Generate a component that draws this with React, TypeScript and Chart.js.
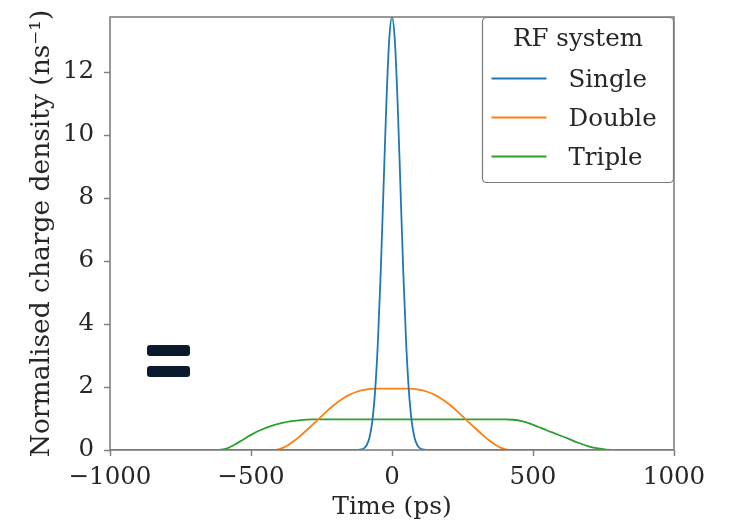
import React, { useEffect, useRef } from "react";
import { Chart, registerables } from "chart.js";

Chart.register(...registerables);

// ---- data ----
const seriesLabels = ["Single", "Double", "Triple"];
const seriesColors = ["#1f77b4", "#ff7f0e", "#2ca02c"];
const legendTitle = "RF system";
const xTitle = "Time (ps)";
const yTitle = "Normalised charge density (ns\u207B\u00B9)";

const xTicks = [-1000, -500, 0, 500, 1000];
const yTicks = [0, 2, 4, 6, 8, 10, 12];

const singleT = [-1000, -150, -120, -110, -100, -90, -80, -70, -60, -50, -40, -30, -20, -10, 0, 10, 20, 30, 40, 50, 60, 70, 80, 90, 100, 110, 120, 150, 1000];
const singleV = [0, 0, 0.005, 0.017, 0.05, 0.15, 0.39, 0.9, 1.86, 3.43, 5.65, 8.34, 11.01, 13.01, 13.75, 13.01, 11.01, 8.34, 5.65, 3.43, 1.86, 0.9, 0.39, 0.15, 0.05, 0.017, 0.005, 0, 0];

const doubleT = [-1000, -420, -400, -375, -350, -325, -300, -275, -250, -225, -200, -175, -150, -125, -100, -75, -50, 0, 50, 75, 100, 125, 150, 175, 200, 225, 250, 275, 300, 325, 350, 375, 400, 420, 1000];
const doubleV = [0, 0, 0.03, 0.12, 0.27, 0.45, 0.65, 0.86, 1.07, 1.28, 1.47, 1.63, 1.76, 1.85, 1.91, 1.94, 1.95, 1.95, 1.95, 1.94, 1.91, 1.85, 1.76, 1.63, 1.47, 1.28, 1.07, 0.86, 0.65, 0.45, 0.27, 0.12, 0.03, 0, 0];

const tripleT = [-1000, -630, -600, -580, -560, -530, -500, -470, -430, -385, -330, -280, -200, 0, 200, 400, 430, 460, 490, 520, 550, 585, 625, 660, 700, 730, 760, 790, 1000];
const tripleV = [0, 0, 0.02, 0.07, 0.16, 0.32, 0.48, 0.62, 0.76, 0.87, 0.94, 0.97, 0.97, 0.97, 0.97, 0.97, 0.96, 0.92, 0.84, 0.73, 0.62, 0.5, 0.36, 0.23, 0.11, 0.05, 0.015, 0, 0];

const xMin = -1000;
const xMax = 1000;
const yMin = 0;
const yMax = 13.75;

// ---- styling ----
const FONT_FAMILY = "'DejaVu Serif', serif";
const TEXT_COLOR = "#262626";
const AXIS_COLOR = "#808080";

const toPoints = (t: number[], v: number[]) => t.map((x, i) => ({ x, y: v[i] }));
const fmt = (v: number) => (v < 0 ? "\u2212" + Math.abs(v) : String(v));

const frameLegendPlugin = {
  id: "frameLegend",
  afterDatasetsDraw(chart: any) {
    const { ctx, chartArea: a } = chart;
    ctx.save();
    // axes frame (all four spines)
    ctx.strokeStyle = AXIS_COLOR;
    ctx.lineWidth = 1.6;
    ctx.strokeRect(a.left, a.top, a.right - a.left, a.bottom - a.top);

    // legend box in upper right
    const bw = 191;
    const bh = 165;
    const bx = a.right - bw - 0.5;
    const by = a.top + 0.5;
    ctx.beginPath();
    if ((ctx as any).roundRect) (ctx as any).roundRect(bx, by, bw, bh, 4);
    else ctx.rect(bx, by, bw, bh);
    ctx.fillStyle = "rgba(255,255,255,0.85)";
    ctx.fill();
    ctx.strokeStyle = "#7a7a7a";
    ctx.lineWidth = 1.2;
    ctx.stroke();

    ctx.fillStyle = TEXT_COLOR;
    ctx.font = `24.5px ${FONT_FAMILY}`;
    ctx.textAlign = "center";
    ctx.textBaseline = "alphabetic";
    ctx.fillText(legendTitle, bx + bw / 2, by + 28);

    ctx.textAlign = "left";
    chart.data.datasets.forEach((ds: any, i: number) => {
      const ly = by + 61 + i * 39;
      ctx.strokeStyle = ds.borderColor;
      ctx.lineWidth = 1.8;
      ctx.beginPath();
      ctx.moveTo(bx + 9, ly);
      ctx.lineTo(bx + 64, ly);
      ctx.stroke();
      ctx.fillStyle = TEXT_COLOR;
      ctx.fillText(ds.label, bx + 86, ly + 8.5);
    });
    ctx.restore();
  },
};

export default function App() {
  const ref = useRef<HTMLCanvasElement>(null);

  useEffect(() => {
    if (!ref.current) return;
    const series = [toPoints(singleT, singleV), toPoints(doubleT, doubleV), toPoints(tripleT, tripleV)];
    const chart = new Chart(ref.current, {
      type: "line",
      data: {
        datasets: series.map((pts, i) => ({
          label: seriesLabels[i],
          data: pts,
          borderColor: seriesColors[i],
          backgroundColor: seriesColors[i],
          borderWidth: 1.8,
          pointRadius: 0,
          fill: false,
          cubicInterpolationMode: "monotone" as const,
        })),
      },
      options: {
        responsive: false,
        animation: false,
        devicePixelRatio: 1,
        layout: { padding: { top: 17, right: 56, left: 0, bottom: 0 } },
        plugins: {
          legend: { display: false },
          tooltip: { enabled: false },
        },
        scales: {
          x: {
            type: "linear",
            min: xMin,
            max: xMax,
            afterBuildTicks: (s: any) => {
              s.ticks = xTicks.map((v) => ({ value: v }));
            },
            afterFit: (s: any) => {
              s.height = 75;
              s.paddingLeft = 0;
              s.paddingRight = 0;
            },
            grid: {
              display: true,
              drawOnChartArea: false,
              drawTicks: true,
              tickLength: 6,
              tickWidth: 1.5,
              tickColor: AXIS_COLOR,
            },
            border: { display: false },
            ticks: {
              color: TEXT_COLOR,
              font: { family: FONT_FAMILY, size: 24.5 },
              padding: 7,
              maxRotation: 0,
              autoSkip: false,
              callback: (v: any) => fmt(Number(v)),
            },
            title: {
              display: true,
              text: xTitle,
              color: TEXT_COLOR,
              font: { family: FONT_FAMILY, size: 25 },
              padding: { top: 0, bottom: 3 },
            },
          },
          y: {
            type: "linear",
            min: yMin,
            max: yMax,
            afterBuildTicks: (s: any) => {
              s.ticks = yTicks.map((v) => ({ value: v }));
            },
            afterFit: (s: any) => {
              s.width = 110;
              s.paddingTop = 0;
              s.paddingBottom = 0;
            },
            grid: {
              display: true,
              drawOnChartArea: false,
              drawTicks: true,
              tickLength: 6,
              tickWidth: 1.5,
              tickColor: AXIS_COLOR,
            },
            border: { display: false },
            ticks: {
              color: TEXT_COLOR,
              font: { family: FONT_FAMILY, size: 24.5 },
              padding: 10,
              autoSkip: false,
              callback: (v: any) => fmt(Number(v)),
            },
            title: {
              display: true,
              text: yTitle,
              color: TEXT_COLOR,
              font: { family: FONT_FAMILY, size: 26.5 },
              padding: { top: 26, bottom: 0 },
            },
          },
        },
      },
      plugins: [frameLegendPlugin],
    });
    return () => chart.destroy();
  }, []);

  const eqBar: React.CSSProperties = {
    position: "absolute",
    left: 147,
    width: 43,
    height: 11,
    background: "#0b1a2c",
    borderRadius: 3,
  };

  return (
    <div style={{ position: "fixed", left: 0, top: 0, width: 730, height: 525, background: "#ffffff" }}>
      <canvas ref={ref} width={730} height={525} style={{ width: 730, height: 525, display: "block" }} />
      <div style={{ ...eqBar, top: 345 }} />
      <div style={{ ...eqBar, top: 366 }} />
    </div>
  );
}
